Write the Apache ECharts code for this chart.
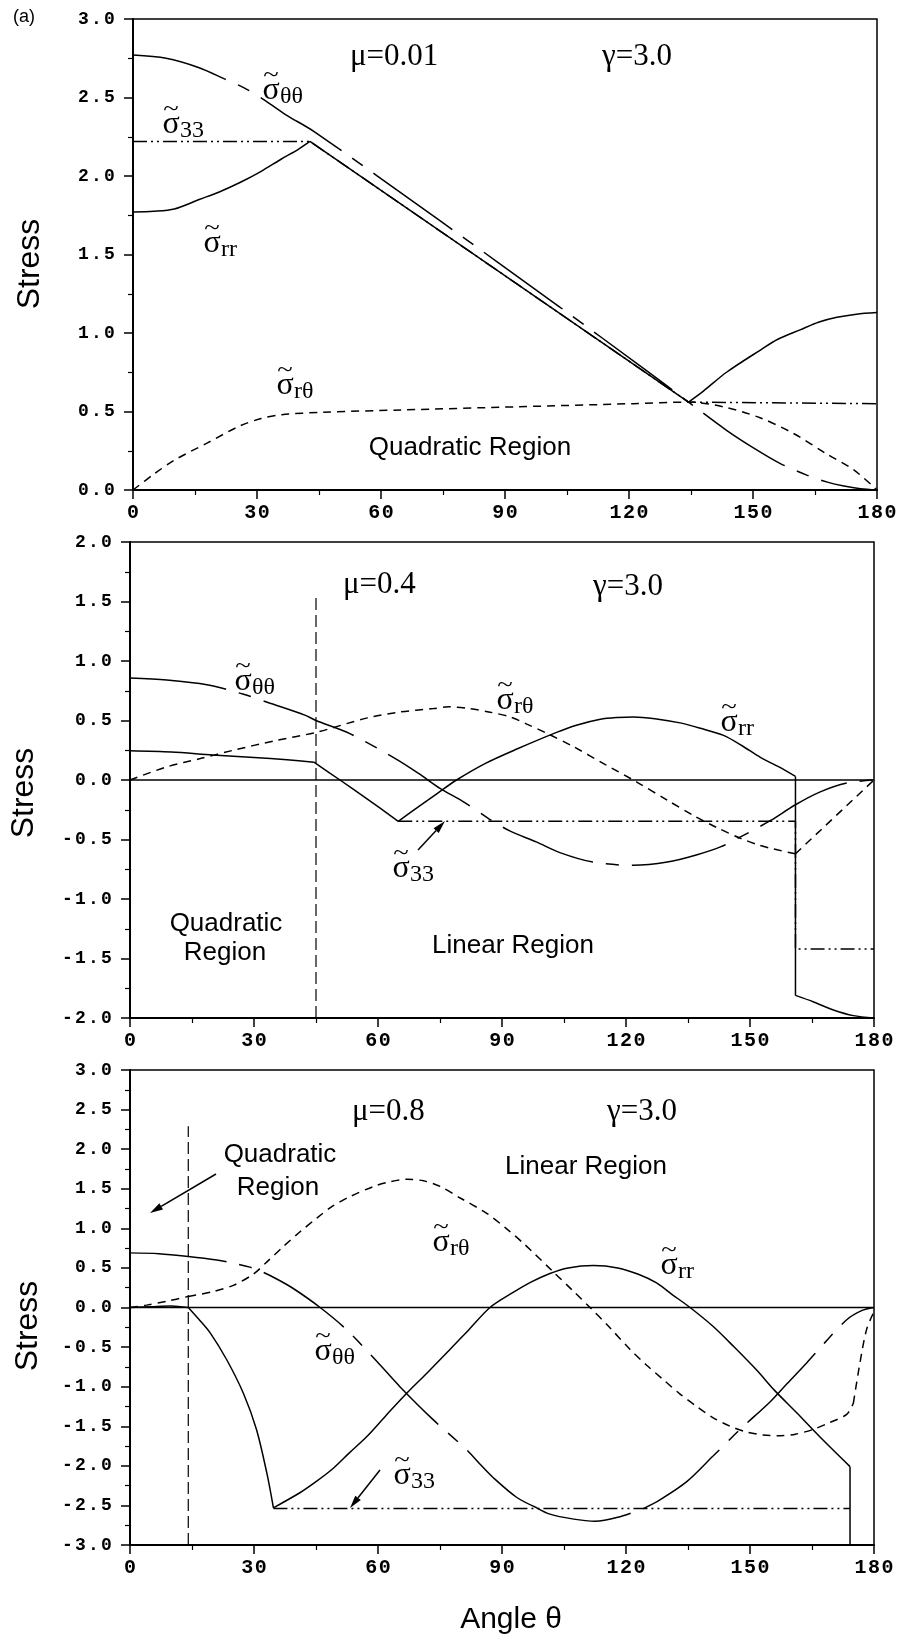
<!DOCTYPE html>
<html>
<head>
<meta charset="utf-8">
<title>Stress vs angle</title>
<script src="https://cdn.jsdelivr.net/npm/echarts@6/dist/echarts.min.js"></script>
<style>
  html, body { margin: 0; padding: 0; background: #fff; }
  #chart { width: 899px; height: 1642px; }
</style>
</head>
<body>
<div id="chart"></div>
<script>
// angle axis, shared by the three panels
var angleRange = [0, 180]
var angleStep = 30
// stress axis ranges, top to bottom panel
var p1Range = [0, 3]
var p2Range = [-2, 2]
var p3Range = [-3, 3]
var stressStep = 0.5

// each curve is a list of pieces [theta, stress]; pieces meet at the kinks

// panel 1 (mu = 0.01)
var p1Rr = [
  [[0,1.77],[5,1.775],[10,1.79],[16,1.85],[21,1.9],[26,1.96],[31,2.03],[36,2.11],[40,2.17],[42.8,2.22]],
  [[42.8,2.22],[134.4,0.56]],
  [[134.4,0.56],[138,0.63],[143.6,0.75],[151.7,0.89],[156,0.96],[161.4,1.02],[166,1.07],[170.3,1.1],[175,1.12],[180,1.13]]
]
var p1Tt = [
  [[0,2.77],[8,2.75],[16,2.69],[22,2.62],[27,2.56],[32,2.48],[37,2.39],[44,2.28],[74,1.72],[103,1.17],[123.5,0.775],[134.4,0.56],[143.6,0.38],[150,0.27],[156.5,0.17],[163,0.095],[168,0.05],[172,0.025],[176,0.008],[180,0]]
]
var p1Rt = [
  [[0,0],[5,0.1],[10,0.19],[18,0.3],[26,0.41],[31,0.455],[36,0.48],[46,0.495],[65,0.51],[93,0.53],[121,0.55],[134.4,0.56],[142.8,0.53],[151.7,0.46],[159.8,0.36],[167.8,0.23],[174.3,0.13],[180,0]]
]
var p1S33 = [[[0,2.22],[42.8,2.22],[134.4,0.56],[134.4,0.55],[180,0.55]]]

// panel 2 (mu = 0.4)
var p2Rr = [
  [[0,0.245],[10,0.235],[20,0.21],[30,0.19],[38,0.17],[44.5,0.15]],
  [[44.5,0.15],[50.8,0],[57,-0.15],[64.9,-0.347]],
  [[64.9,-0.347],[70,-0.22],[74.3,-0.114],[79,0],[86,0.14],[93.6,0.26],[103.2,0.4],[108,0.46],[113.8,0.51],[118,0.525],[121.8,0.53],[127,0.515],[133.1,0.48],[138,0.435],[143.6,0.375],[148,0.29],[152.5,0.19],[157,0.11],[161,0.03]],
  [[161,0.03],[161,-1.81]],
  [[161,-1.81],[165.4,-1.865],[170,-1.93],[175,-1.98],[180,-2]]
]
var p2Tt = [
  [[0,0.857],[8.9,0.84],[18.6,0.8],[27.5,0.72],[33.9,0.645],[42.3,0.545],[45,0.5],[53.2,0.39],[64.5,0.174],[69.8,0.056],[75,-0.07],[81,-0.19],[87,-0.33],[92,-0.43],[98.3,-0.52],[104,-0.61],[112,-0.69],[121.7,-0.717],[130,-0.69],[137,-0.63],[143,-0.56],[148.4,-0.465],[155,-0.34],[160.9,-0.21],[167,-0.1],[173.5,-0.025],[180,0]]
]
var p2Rt = [
  [[0,0],[8.9,0.11],[17,0.18],[25,0.25],[35,0.33],[45,0.4],[57.2,0.52],[65,0.57],[73.4,0.6],[77,0.615],[82,0.6],[87.1,0.57],[92,0.53],[96,0.47],[101,0.39],[107.3,0.28],[115,0.13],[122.6,-0.017],[130,-0.17],[136.4,-0.3],[142,-0.4],[147.7,-0.49],[152,-0.545],[155.7,-0.58],[161,-0.62]],
  [[161,-0.62],[180,0]]
]
var p2S33 = [[[64.9,-0.347],[161,-0.347],[161,-1.42],[180,-1.42]]]
var p2Boundary = [[[45,-2],[45,1.55]]]

// panel 3 (mu = 0.8)
var p3Rr = [
  [[0,0],[5,0.01],[10,0.02],[14.1,0]],
  [[14.1,0],[16.5,-0.14],[19.4,-0.32],[23.4,-0.66],[27.4,-1.08],[30.6,-1.54],[33.1,-2.09],[34.7,-2.53]],
  [[34.7,-2.53],[41.1,-2.34],[45,-2.2],[49.2,-2.03],[53,-1.84],[57.3,-1.63],[62,-1.36],[67,-1.08],[72,-0.82],[77.4,-0.53],[82,-0.28],[87.1,0],[92.7,0.19],[97,0.32],[101.6,0.43],[106,0.5],[112.1,0.53],[118,0.5],[123,0.42],[127.4,0.31],[131,0.17],[135.5,0],[141.1,-0.24],[146,-0.49],[151.6,-0.79],[156,-1.05],[161.3,-1.33],[167,-1.64],[174.2,-2.01]],
  [[174.2,-2.01],[174.2,-3],[180,-3]]
]
var p3Tt = [
  [[0,0.69],[7,0.68],[14.1,0.645],[21,0.6],[25,0.56],[29,0.51],[32,0.45],[35.5,0.36],[39.5,0.24],[46,0],[52.4,-0.28],[59.7,-0.68],[65.3,-1],[73.4,-1.42],[81.5,-1.8],[84.7,-1.98],[87.9,-2.15],[93.6,-2.4],[98.4,-2.53]],
  [[98.4,-2.53],[101.6,-2.61],[107,-2.67],[112.5,-2.7],[118,-2.65],[124.2,-2.54]],
  [[124.2,-2.54],[128.2,-2.43],[134.7,-2.2],[141,-1.88],[147.6,-1.54],[154.9,-1.19],[159,-0.96],[163.7,-0.7],[168,-0.45],[173.4,-0.155],[177,-0.04],[180,0]]
]
var p3Rt = [
  [[0,0],[4,0.03],[9,0.08],[14.1,0.14]],
  [[14.1,0.14],[20,0.2],[25,0.28],[29.8,0.42],[33,0.57],[37.1,0.77],[41,0.95],[45.2,1.13],[49,1.28],[53.2,1.4],[59,1.53],[63,1.59],[67,1.62],[71,1.6],[75,1.53],[80,1.38],[86.3,1.19],[91,1],[95.2,0.81],[102.4,0.45],[107,0.22],[111.3,0],[116,-0.25],[121,-0.53],[125,-0.73],[129,-0.91],[133,-1.09],[137.1,-1.25],[141,-1.39],[145.2,-1.5],[149,-1.57],[153.2,-1.61],[157.3,-1.62],[161,-1.6],[165.3,-1.54],[169,-1.46],[173.4,-1.35],[175,-1.21]],
  [[175,-1.21],[176.6,-0.7],[178.2,-0.28],[180,-0.05]]
]
var p3S33 = [[[34.7,-2.54],[174.2,-2.54]]]
var p3Boundary = [[[14.1,-3],[14.1,2.29]]]

var zeroLine = [[[0,0],[180,0]]]

// line patterns
var LONG_DASH = [97, 13, 13, 13]
var SHORT_DASH = [8, 6]
var DASH_DOT_DOT = [14, 4, 2, 4, 2, 4]
var BOUNDARY_DASH = [12, 5]

var MONO = 'Liberation Mono'
var SERIF = '"Liberation Serif"'
var SANS = '"Liberation Sans"'

var chart = echarts.init(document.getElementById('chart'), null, { renderer: 'canvas' })

// monospace tick labels with the wide letter spacing of the original plot
function spaced(str) {
  return str.split('').map(function (c) { return '{c|' + c + '}' }).join('')
}

function xAxisFor(i) {
  return {
    type: 'value', gridIndex: i, min: angleRange[0], max: angleRange[1], interval: angleStep,
    axisLine: { onZero: false, lineStyle: { color: '#000', width: 2 } },
    axisTick: { length: 9, lineStyle: { color: '#000', width: 1.5 } },
    minorTick: { show: true, splitNumber: 2, length: 5, lineStyle: { color: '#000', width: 1.2 } },
    splitLine: { show: false },
    axisLabel: {
      margin: 13, showMinLabel: true, showMaxLabel: true,
      formatter: function (v) { return spaced(String(v)) },
      rich: { c: { width: 13.5, align: 'center', fontFamily: MONO, fontSize: 20, fontWeight: 'bold', color: '#000' } }
    }
  }
}

function yAxisFor(i, range) {
  return {
    type: 'value', gridIndex: i, min: range[0], max: range[1], interval: stressStep,
    axisLine: { onZero: false, lineStyle: { color: '#000', width: 2 } },
    axisTick: { length: 9, lineStyle: { color: '#000', width: 1.5 } },
    minorTick: { show: true, splitNumber: 2, length: 5, lineStyle: { color: '#000', width: 1.2 } },
    splitLine: { show: false },
    axisLabel: {
      margin: 17, showMinLabel: true, showMaxLabel: true,
      formatter: function (v) { return spaced(v.toFixed(1)) },
      rich: { c: { width: 13, align: 'center', fontFamily: MONO, fontSize: 18, fontWeight: 'bold', color: '#000' } }
    }
  }
}

// pieces are joined with an empty point so each one is smoothed on its own
function curve(pieces, i, dash, width, smooth) {
  var data = []
  pieces.forEach(function (p, k) {
    if (k > 0) data.push(['-', '-'])
    data = data.concat(p)
  })
  return {
    type: 'line', xAxisIndex: i, yAxisIndex: i, data: data,
    showSymbol: false, symbol: 'none', silent: true, animation: false, connectNulls: false,
    smooth: smooth === undefined ? 0.3 : smooth,
    lineStyle: { color: '#000', width: width || 1.5, type: dash || 'solid' }
  }
}

function txt(x, y, text, font, align) {
  return {
    type: 'text', x: x, y: y, silent: true,
    style: { text: text, font: font, fill: '#000', align: align || 'left', verticalAlign: 'middle' }
  }
}

// sigma with tilde and subscript; (x, y) is the centre of the sigma
function sigma(x, y, sub) {
  return {
    type: 'group', x: x, y: y, silent: true,
    children: [
      { type: 'text', style: { text: 'σ', x: 0, y: 3, align: 'center', verticalAlign: 'middle', font: '32px ' + SERIF, fill: '#000' } },
      { type: 'text', scaleX: 1.3, style: { text: '~', x: 0, y: -13, align: 'center', verticalAlign: 'middle', font: '22px ' + SERIF, fill: '#000' } },
      { type: 'text', style: { text: sub, x: 9, y: 9, align: 'left', verticalAlign: 'middle', font: '24px ' + SERIF, fill: '#000' } }
    ]
  }
}

function arrow(x1, y1, x2, y2) {
  var a = Math.atan2(y2 - y1, x2 - x1), len = 13, w = 3.5
  var bx = x2 - len * Math.cos(a), by = y2 - len * Math.sin(a)
  return [
    { type: 'line', silent: true, shape: { x1: x1, y1: y1, x2: bx, y2: by }, style: { stroke: '#000', lineWidth: 1.5 } },
    { type: 'polygon', silent: true, shape: { points: [[x2, y2], [bx + w * Math.sin(a), by - w * Math.cos(a)], [bx - w * Math.sin(a), by + w * Math.cos(a)]] }, style: { fill: '#000' } }
  ]
}

function stressLabel(x, y) {
  return {
    type: 'text', x: x, y: y, rotation: Math.PI / 2, silent: true,
    style: { text: 'Stress', font: '32px ' + SANS, fill: '#000', align: 'center', verticalAlign: 'middle' }
  }
}

var gridBox = { show: true, borderColor: '#000', borderWidth: 1.5, backgroundColor: 'transparent', outerBoundsMode: 'none' }

var option = {
  backgroundColor: '#fff',
  animation: false,
  grid: [
    Object.assign({ left: 133, right: 22, top: 19, height: 471 }, gridBox),
    Object.assign({ left: 130, right: 25, top: 542, height: 476 }, gridBox),
    Object.assign({ left: 130, right: 25, top: 1070, height: 475 }, gridBox)
  ],
  xAxis: [xAxisFor(0), xAxisFor(1), xAxisFor(2)],
  yAxis: [yAxisFor(0, p1Range), yAxisFor(1, p2Range), yAxisFor(2, p3Range)],
  series: [
    curve(p1Rr, 0), curve(p1Tt, 0, LONG_DASH), curve(p1Rt, 0, SHORT_DASH), curve(p1S33, 0, DASH_DOT_DOT, 1.5, false),
    curve(zeroLine, 1, 'solid', 1.3, false), curve(p2Boundary, 1, BOUNDARY_DASH, 1.2, false),
    curve(p2Rr, 1), curve(p2Tt, 1, LONG_DASH), curve(p2Rt, 1, SHORT_DASH), curve(p2S33, 1, DASH_DOT_DOT, 1.5, false),
    curve(zeroLine, 2, 'solid', 1.3, false), curve(p3Boundary, 2, BOUNDARY_DASH, 1.2, false),
    curve(p3Rr, 2), curve(p3Tt, 2, LONG_DASH), curve(p3Rt, 2, SHORT_DASH), curve(p3S33, 2, DASH_DOT_DOT, 1.5, false)
  ],
  graphic: [].concat(
    [
      txt(13, 17, '(a)', '18px ' + SANS),
      stressLabel(30, 264), stressLabel(24, 793), stressLabel(28, 1326),
      txt(511, 1620, 'Angle θ', '30px ' + SANS, 'center'),

      txt(350, 57, 'μ=0.01', '31px ' + SERIF), txt(602, 57, 'γ=3.0', '31px ' + SERIF),
      txt(470, 448, 'Quadratic Region', '26px ' + SANS, 'center'),
      sigma(271, 88, 'θθ'), sigma(171, 122, '33'), sigma(212, 241, 'rr'), sigma(285, 383, 'rθ'),

      txt(343, 585, 'μ=0.4', '31px ' + SERIF), txt(593, 587, 'γ=3.0', '31px ' + SERIF),
      txt(226, 924, 'Quadratic', '26px ' + SANS, 'center'), txt(225, 953, 'Region', '26px ' + SANS, 'center'),
      txt(513, 946, 'Linear Region', '26px ' + SANS, 'center'),
      sigma(243, 679, 'θθ'), sigma(505, 698, 'rθ'), sigma(729, 720, 'rr'), sigma(401, 866, '33'),

      txt(352, 1112, 'μ=0.8', '31px ' + SERIF), txt(607, 1112, 'γ=3.0', '31px ' + SERIF),
      txt(280, 1155, 'Quadratic', '26px ' + SANS, 'center'), txt(278, 1188, 'Region', '26px ' + SANS, 'center'),
      txt(586, 1167, 'Linear Region', '26px ' + SANS, 'center'),
      sigma(441, 1240, 'rθ'), sigma(669, 1263, 'rr'), sigma(323, 1349, 'θθ'), sigma(402, 1473, '33')
    ],
    arrow(418, 850, 445, 821),
    arrow(216, 1174, 150, 1213),
    arrow(380, 1470, 350, 1508)
  )
}

chart.setOption(option)
</script>
</body>
</html>
